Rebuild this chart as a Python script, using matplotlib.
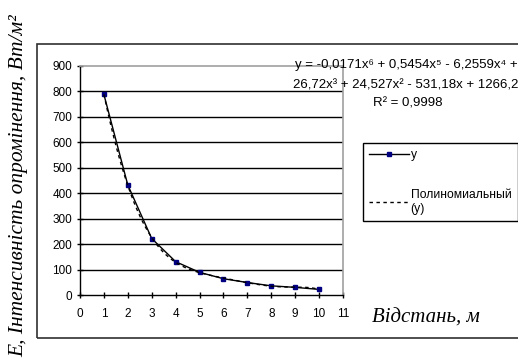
import numpy as np
import matplotlib
matplotlib.use("Agg")
import matplotlib.pyplot as plt
from matplotlib.patches import Rectangle

# ---- data ----
distance = [1, 2, 3, 4, 5, 6, 7, 8, 9, 10]
irradiance = [788, 432, 222, 131, 89, 64, 49, 36, 30, 22]
x_ticks = list(range(0, 12))
y_ticks = list(range(0, 1000, 100))
series_label = "y"
trend_label = "Полиномиальный\n(y)"
eq_line1 = "y = -0,0171x\u2076 + 0,5454x\u2075 - 6,2559x\u2074 +"
eq_line2 = "26,72x\u00b3 + 24,527x\u00b2 - 531,18x + 1266,2"
eq_line3 = "R\u00b2 = 0,9998"
xlabel = "Відстань, м"
ylabel = "E, Інтенсивність опромінення, Вт/м\u00b2"

sans = ["Liberation Sans", "DejaVu Sans"]
serif = ["Liberation Serif", "DejaVu Serif"]
plt.rcParams["font.family"] = sans

W, H = 518, 363
fig = plt.figure(figsize=(W / 100, H / 100), dpi=100)
fig.patch.set_facecolor("white")

# chart area border
fig.add_artist(Rectangle((37 / W, 1 - 338 / H), 1.0, (338 - 44) / H,
                         transform=fig.transFigure, fill=False,
                         edgecolor="#303030", lw=1.2, zorder=0))

ax = fig.add_axes([80 / W, 1 - 295 / H, (343 - 80) / W, (295 - 66) / H])
ax.set_xlim(0, 11)
ax.set_ylim(0, 900)
ax.set_xticks(x_ticks)
ax.set_yticks(y_ticks)
ax.tick_params(direction="inout", length=5, width=1, labelsize=8.5, pad=3)
ax.tick_params(axis="x", pad=7)
ax.yaxis.grid(True, color="black", lw=1)
gl = ax.get_ygridlines()
gl[0].set_visible(False)
gl[-1].set_visible(False)
ax.set_axisbelow(True)
for s in ["top", "right"]:
    ax.spines[s].set_color("#a0a0a0")
    ax.spines[s].set_linewidth(1.2)
for s in ["left", "bottom"]:
    ax.spines[s].set_color("black")
    ax.spines[s].set_linewidth(1)

# trendline (polynomial fit of degree 6, as in the chart)
coef = np.polyfit(distance, irradiance, 6)
xs = np.linspace(min(distance), max(distance), 300)
ys = np.polyval(coef, xs)

l1, = ax.plot(distance, irradiance, color="black", lw=1, marker="s",
              markersize=3.5, markerfacecolor="#000080",
              markeredgecolor="#000080", label=series_label, zorder=3)
l2, = ax.plot(xs, ys, color="black", lw=1, ls=(0, (2.5, 2.5)),
              label=trend_label, zorder=4)

# equation text
fig.text(295 / W, 1 - 65 / H, eq_line1, fontsize=9.5, ha="left", va="center")
fig.text(293 / W, 1 - 85 / H, eq_line2, fontsize=9.5, ha="left", va="center")
fig.text(373 / W, 1 - 104 / H, eq_line3, fontsize=9.5, ha="left", va="center")

# axis titles
fig.text(372 / W, 1 - 323 / H, xlabel, family=serif, style="italic",
         fontsize=15, ha="left", va="baseline")
fig.text(19 / W, 1 - 186 / H, ylabel, family=serif, style="italic",
         fontsize=15.5, ha="center", va="center", rotation=90)

leg = fig.legend(handles=[l1, l2], loc="upper left",
                 bbox_to_anchor=(363 / W, 1 - 143 / H), fontsize=8.7,
                 frameon=True, fancybox=False, edgecolor="black",
                 framealpha=1, handlelength=3.3, handletextpad=0.15,
                 borderpad=0.5, labelspacing=2.3, borderaxespad=0)
leg.get_frame().set_linewidth(1)

fig.savefig("out.png", dpi=100)
